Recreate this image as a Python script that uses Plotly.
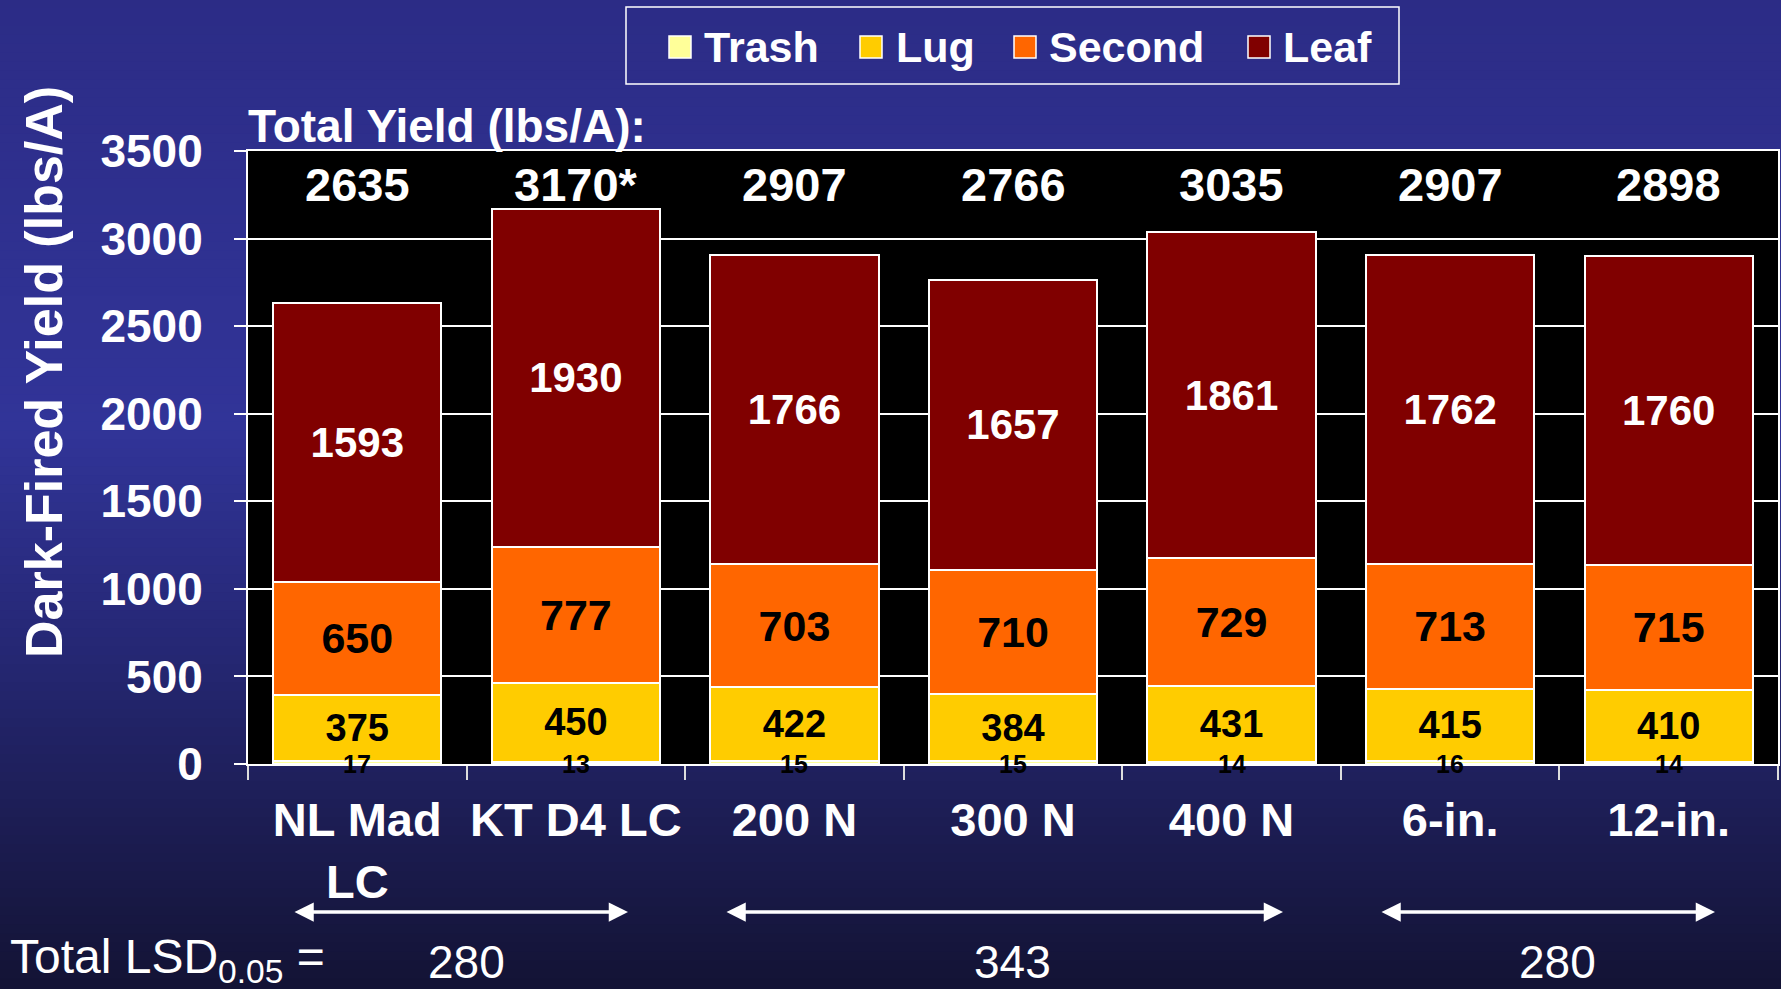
import plotly.graph_objects as go

categories = ["NL Mad<br>LC", "KT D4 LC", "200 N", "300 N", "400 N", "6-in.", "12-in."]
trash = [17, 13, 15, 15, 14, 16, 14]
lug = [375, 450, 422, 384, 431, 415, 410]
second = [650, 777, 703, 710, 729, 713, 715]
leaf = [1593, 1930, 1766, 1657, 1861, 1762, 1760]
total_labels = ["2635", "3170*", "2907", "2766", "3035", "2907", "2898"]
lsd_groups = ["280", "343", "280"]

W, H = 1781, 989
ML, MR, MT, MB = 248, 3, 151, 225
PW, PH = W - ML - MR, H - MT - MB
FONT = "Liberation Sans, Arial, sans-serif"

def px(X):
    return (X - ML) / PW

def py(Y):
    return (H - MB - Y) / PH

colors = {"Trash": "#FFFF99", "Lug": "#FFCC00", "Second": "#FF6600", "Leaf": "#800000"}

fig = go.Figure()
fig.add_trace(go.Bar(name="Trash", x=categories, y=trash, marker=dict(color=colors["Trash"], line=dict(color="white", width=2)),
                     hoverinfo="y"))
fig.add_trace(go.Bar(name="Lug", x=categories, y=lug, marker=dict(color=colors["Lug"], line=dict(color="white", width=2)),
                     texttemplate="%{y}", textposition="inside", insidetextanchor="middle", constraintext="none",
                     textangle=0, textfont=dict(family=FONT, size=38, color="black", weight="bold")))
fig.add_trace(go.Bar(name="Second", x=categories, y=second, marker=dict(color=colors["Second"], line=dict(color="white", width=2)),
                     texttemplate="%{y}", textposition="inside", insidetextanchor="middle", constraintext="none",
                     textangle=0, textfont=dict(family=FONT, size=43, color="black", weight="bold")))
fig.add_trace(go.Bar(name="Leaf", x=categories, y=leaf, marker=dict(color=colors["Leaf"], line=dict(color="white", width=2)),
                     texttemplate="%{y}", textposition="inside", insidetextanchor="middle", constraintext="none",
                     textangle=0, textfont=dict(family=FONT, size=42, color="white", weight="bold")))

# background gradient bands
def lerp(c1, c2, t):
    return tuple(round(a + (b - a) * t) for a, b in zip(c1, c2))

stops = [(0, (44, 44, 134)), (430, (49, 52, 152)), (640, (38, 40, 118)), (989, (19, 19, 52))]
shapes = []
N = 110
for i in range(N):
    y0 = H * i / N
    y1 = H * (i + 1) / N
    ym = (y0 + y1) / 2
    for (a, ca), (b, cb) in zip(stops[:-1], stops[1:]):
        if a <= ym <= b:
            c = lerp(ca, cb, (ym - a) / (b - a))
            break
    shapes.append(dict(type="rect", xref="paper", yref="paper", x0=px(0), x1=px(W), y0=py(y1), y1=py(y0) + 0.002,
                       fillcolor="rgb(%d,%d,%d)" % c, line=dict(width=0), layer="below"))
shapes.append(dict(type="rect", xref="x domain", yref="y domain", x0=0, x1=1, y0=0, y1=1,
                   fillcolor="black", line=dict(width=0), layer="below"))

# legend box
shapes.append(dict(type="rect", xref="paper", yref="paper", x0=px(626), x1=px(1399), y0=py(84), y1=py(7),
                   line=dict(color="white", width=1.5), fillcolor="rgba(0,0,0,0)", layer="above"))
legend_items = [("Trash", 669, 702), ("Lug", 860, 894), ("Second", 1014, 1047), ("Leaf", 1248, 1281)]
annotations = []
for name, sx, tx in legend_items:
    shapes.append(dict(type="rect", xref="paper", yref="paper", x0=px(sx), x1=px(sx + 22), y0=py(58), y1=py(36),
                       fillcolor=colors[name], line=dict(color="white", width=1.5), layer="above"))
    annotations.append(dict(xref="paper", yref="paper", x=px(tx), y=py(47), xanchor="left", yanchor="middle",
                            text=name, showarrow=False, font=dict(family=FONT, size=43, color="white", weight="bold")))

# total labels
for c, t in zip(categories, total_labels):
    annotations.append(dict(x=c, y=3310, xref="x", yref="y", text=t, showarrow=False, yanchor="middle",
                            font=dict(family=FONT, size=47, color="white", weight="bold")))
# trash labels
for c, v in zip(categories, trash):
    annotations.append(dict(x=c, y=0, xref="x", yref="y", text=str(v), showarrow=False, yanchor="middle",
                            font=dict(family=FONT, size=25, color="black", weight="bold")))

annotations.append(dict(xref="paper", yref="paper", x=px(246), y=py(126), xanchor="left", yanchor="middle",
                        text="Total Yield (lbs/A):", showarrow=False,
                        font=dict(family=FONT, size=46, color="white", weight="bold")))
annotations.append(dict(xref="paper", yref="paper", x=px(44), y=py(372), xanchor="center", yanchor="middle",
                        text="Dark-Fired Yield (lbs/A)", textangle=-90, showarrow=False,
                        font=dict(family=FONT, size=52, color="white", weight="bold")))

# LSD section
annotations.append(dict(xref="paper", yref="paper", x=px(8), y=py(960), xanchor="left", yanchor="middle",
                        text="Total LSD<sub>0.05</sub> =", showarrow=False,
                        font=dict(family=FONT, size=48, color="white")))
for X, t in zip([466, 1012, 1557], lsd_groups):
    annotations.append(dict(xref="paper", yref="paper", x=px(X), y=py(962), xanchor="center", yanchor="middle",
                            text=t, showarrow=False, font=dict(family=FONT, size=46, color="white")))
for x0, x1 in [(293, 628), (725, 1283), (1380, 1715)]:
    annotations.append(dict(xref="paper", yref="paper", x=px(x1), y=py(912), ax=-(x1 - x0), ay=0,
                            axref="pixel", ayref="pixel", text="", showarrow=True, arrowside="end+start",
                            arrowhead=2, arrowsize=1.1, arrowwidth=3.5, arrowcolor="white"))

fig.update_layout(
    barmode="stack",
    bargap=0.23,
    width=W, height=H,
    margin=dict(l=ML, r=MR, t=MT, b=MB, pad=0, autoexpand=False),
    paper_bgcolor="rgb(40,42,120)",
    plot_bgcolor="black",
    showlegend=False,
    shapes=shapes,
    annotations=annotations,
    font=dict(family=FONT, color="white"),
)
fig.update_xaxes(
    type="category", tickson="boundaries", ticks="outside", ticklen=14, tickcolor="#dddddd", tickwidth=2,
    showline=True, linecolor="white", linewidth=2, mirror=True, showgrid=False, tickangle=0, automargin=False,
    tickfont=dict(family=FONT, size=47, color="white", weight="bold"), ticklabelstandoff=14,
)
fig.update_yaxes(
    range=[0, 3500], dtick=500, ticks="outside", ticklen=12, tickcolor="white", tickwidth=1.5,
    showline=True, linecolor="white", linewidth=2, mirror=True, automargin=False,
    showgrid=True, gridcolor="white", gridwidth=1.5, zeroline=False,
    tickfont=dict(family=FONT, size=46, color="white", weight="bold"), ticklabelstandoff=22,
)
fig.write_html("out.html", config={"displayModeBar": False},
               post_script="document.body.style.margin='0';document.body.style.overflow='hidden';")
